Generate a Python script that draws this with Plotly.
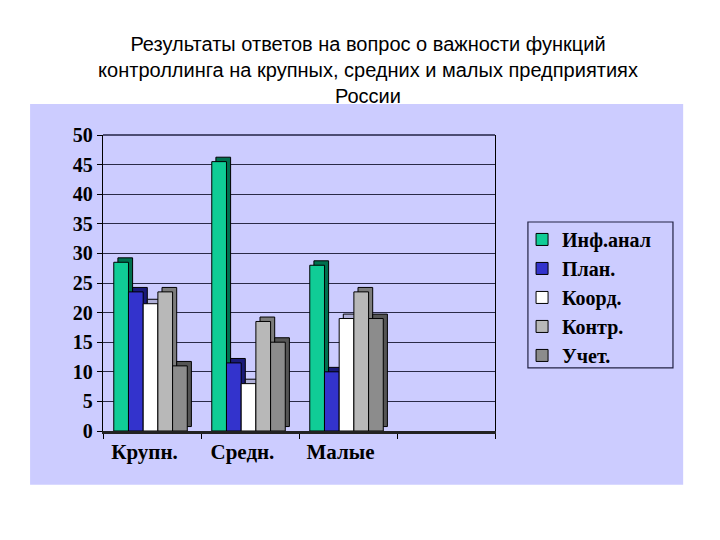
import plotly.graph_objects as go

categories = ["Крупн.", "Средн.", "Малые"]
series_names = ["Инф.анал", "План.", "Коорд.", "Контр.", "Учет."]
inf_anal = [28.5, 45.5, 28.0]
plan = [23.5, 11.5, 10.0]
koord = [21.5, 8.0, 19.0]
kontr = [23.5, 18.5, 23.5]
uchet = [11.0, 15.0, 19.0]
y_ticks = [0, 5, 10, 15, 20, 25, 30, 35, 40, 45, 50]

series_values = [inf_anal, plan, koord, kontr, uchet]
front_colors = ["#10CC96", "#3333CC", "#FFFFFF", "#B8B8B8", "#8C8C8C"]
side_colors = ["#00704F", "#1A1A78", "#B0B0D8", "#7C7C7C", "#555555"]

bar_w = 0.15
first_off = -0.39
dx = 0.042
dy = 0.75
xs = list(range(len(categories)))

fig = go.Figure()
for i, (name, vals) in enumerate(zip(series_names, series_values)):
    off = first_off + i * bar_w
    fig.add_trace(go.Bar(
        x=xs, y=vals, base=dy, width=bar_w, offset=off + dx,
        marker=dict(color=side_colors[i], line=dict(color="#000000", width=1)),
        showlegend=False, hoverinfo="skip"))
    fig.add_trace(go.Bar(
        x=xs, y=vals, width=bar_w, offset=off, name="<b>%s</b>" % name,
        legendgroup=name,
        marker=dict(color=front_colors[i], line=dict(color="#000000", width=1))))

fig.add_shape(type="rect", xref="paper", yref="paper",
              x0=-0.186, x1=1.480, y0=-0.182, y1=1.105,
              fillcolor="#CCCCFF", line=dict(width=0), layer="below")
fig.add_shape(type="rect", xref="paper", yref="paper",
              x0=1.084, x1=1.454, y0=0.213, y1=0.706,
              fillcolor="rgba(0,0,0,0)", line=dict(color="#222244", width=1.2))
fig.add_shape(type="line", xref="paper", yref="paper",
              x0=0, x1=1, y0=1, y1=1,
              line=dict(color="#222244", width=1.3))

fig.update_layout(
    width=720, height=540,
    paper_bgcolor="#FFFFFF", plot_bgcolor="#CCCCFF",
    margin=dict(l=95, r=233, t=127, b=117),
    barmode="overlay",
    title=dict(text="Результаты ответов на вопрос о важности функций<br>контроллинга на крупных, средних и малых предприятиях<br>России",
               x=0.5, xref="container", xanchor="center",
               y=(540 - 43) / 540, yref="container", yanchor="top",
               font=dict(family="Liberation Sans", size=20, color="#000000")),
    legend=dict(x=1.069, y=0.713, xanchor="left", yanchor="top",
                bgcolor="rgba(0,0,0,0)", borderwidth=0, tracegroupgap=0,
                font=dict(family="Liberation Serif", size=20, color="#000000")),
    font=dict(family="Liberation Serif", size=20, color="#000000"),
)
fig.update_xaxes(
    range=[-0.5, 3.5], tickmode="array",
    tickvals=[x - 0.077 for x in xs], ticktext=["<b>%s</b>" % c for c in categories],
    ticks="", showgrid=False, zeroline=False,
    showline=True, linecolor="#222222", linewidth=3, mirror=False,
    minor=dict(ticks="outside", tickmode="array", tickvals=[-0.5, 0.5, 1.5, 2.5, 3.5],
               ticklen=5, tickcolor="#000000", showgrid=False),
    tickfont=dict(family="Liberation Serif", size=21, color="#000000"),
)
fig.update_yaxes(
    range=[0, 50], tickmode="array", tickvals=y_ticks,
    ticktext=["<b>%d</b>" % v for v in y_ticks],
    ticks="outside", ticklen=5, tickcolor="#000000",
    showgrid=True, gridcolor="#2A2A48", gridwidth=1.3, zeroline=False,
    showline=True, linecolor="#000000", linewidth=1.3, mirror=True,
    tickfont=dict(family="Liberation Serif", size=20, color="#000000"),
)

fig.write_html("out.html")
